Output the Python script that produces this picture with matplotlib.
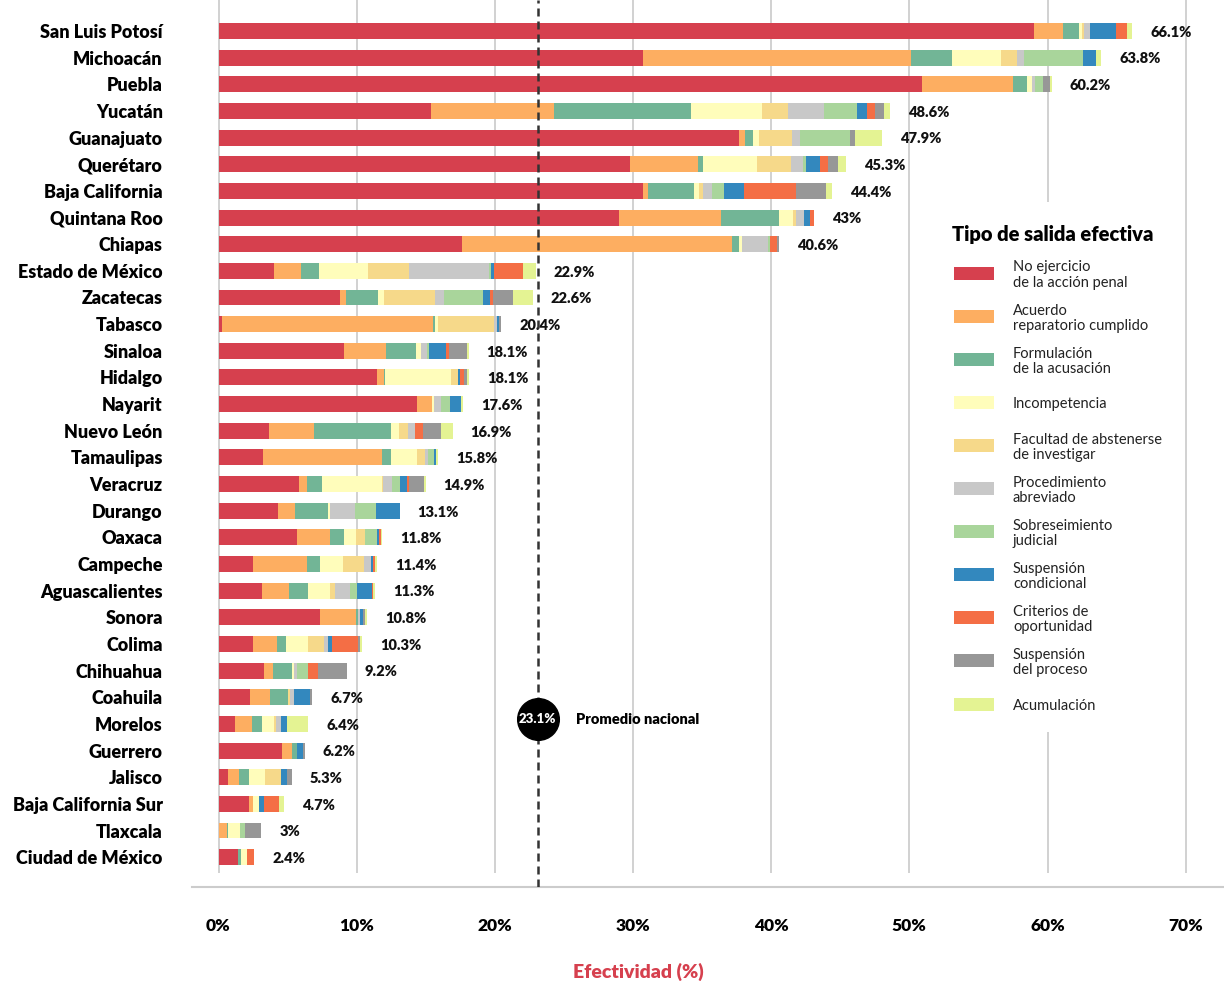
import numpy as np
import matplotlib
matplotlib.use("Agg")
import matplotlib.pyplot as plt
from matplotlib.patches import Rectangle

plt.rcParams['font.family'] = ['Lato', 'DejaVu Sans']

states = ["San Luis Potosí", "Michoacán", "Puebla", "Yucatán", "Guanajuato",
          "Querétaro", "Baja California", "Quintana Roo", "Chiapas",
          "Estado de México", "Zacatecas", "Tabasco", "Sinaloa", "Hidalgo",
          "Nayarit", "Nuevo León", "Tamaulipas", "Veracruz", "Durango",
          "Oaxaca", "Campeche", "Aguascalientes", "Sonora", "Colima",
          "Chihuahua", "Coahuila", "Morelos", "Guerrero", "Jalisco",
          "Baja California Sur", "Tlaxcala", "Ciudad de México"]

total_labels = ["66.1%", "63.8%", "60.2%", "48.6%", "47.9%", "45.3%", "44.4%",
                "43%", "40.6%", "22.9%", "22.6%", "20.4%", "18.1%", "18.1%",
                "17.6%", "16.9%", "15.8%", "14.9%", "13.1%", "11.8%", "11.4%",
                "11.3%", "10.8%", "10.3%", "9.2%", "6.7%", "6.4%", "6.2%",
                "5.3%", "4.7%", "3%", "2.4%"]

# one list per type of outcome, same order as states
no_ejercicio = [59.0, 30.7, 50.9, 15.4, 37.7, 29.8, 30.7, 29.0, 17.6, 4.0, 8.8, 0.25,
                9.1, 11.45, 14.35, 3.65, 3.2, 5.8, 4.3, 5.7, 2.5, 3.15, 7.35, 2.5,
                3.3, 2.3, 1.2, 4.6, 0.7, 2.2, 0.0, 1.4]
acuerdo = [2.1, 19.4, 6.6, 8.9, 0.4, 4.9, 0.4, 7.4, 19.6, 2.0, 0.45, 15.3,
           3.0, 0.5, 1.1, 3.25, 8.6, 0.6, 1.25, 2.4, 3.9, 1.95, 2.6, 1.75,
           0.65, 1.45, 1.25, 0.7, 0.8, 0.3, 0.6, 0.0]
formulacion = [1.2, 3.0, 1.0, 9.9, 0.6, 0.4, 3.3, 4.2, 0.5, 1.3, 2.3, 0.15,
               2.2, 0.1, 0.0, 5.55, 0.65, 1.1, 2.4, 1.0, 0.95, 1.4, 0.15, 0.6,
               1.4, 1.25, 0.7, 0.35, 0.7, 0.0, 0.1, 0.2]
incompetencia = [0.2, 3.5, 0.4, 5.1, 0.4, 3.9, 0.4, 1.0, 0.2, 3.5, 0.45, 0.2,
                 0.35, 4.8, 0.15, 0.6, 1.9, 4.3, 0.15, 0.85, 1.65, 1.6, 0.0, 1.65,
                 0.15, 0.0, 0.85, 0.0, 1.15, 0.45, 0.85, 0.45]
facultad = [0.15, 1.2, 0.0, 1.9, 2.4, 2.4, 0.3, 0.2, 0.0, 3.0, 3.7, 4.05,
            0.0, 0.5, 0.0, 0.65, 0.6, 0.1, 0.0, 0.65, 1.5, 0.35, 0.0, 1.1,
            0.0, 0.15, 0.15, 0.0, 1.15, 0.0, 0.0, 0.0]
abreviado = [0.4, 0.5, 0.2, 2.6, 0.6, 0.9, 0.6, 0.6, 1.9, 5.8, 0.65, 0.2,
             0.45, 0.0, 0.5, 0.55, 0.2, 0.65, 1.75, 0.0, 0.55, 1.1, 0.15, 0.3,
             0.15, 0.35, 0.35, 0.0, 0.0, 0.0, 0.0, 0.0]
sobreseimiento = [0.0, 4.3, 0.6, 2.4, 3.6, 0.2, 0.9, 0.0, 0.1, 0.15, 2.8, 0.0,
                  0.15, 0.0, 0.65, 0.0, 0.45, 0.6, 1.55, 0.85, 0.0, 0.45, 0.0, 0.0,
                  0.85, 0.0, 0.0, 0.0, 0.0, 0.0, 0.35, 0.0]
condicional = [1.9, 0.9, 0.0, 0.7, 0.0, 1.0, 1.4, 0.4, 0.0, 0.2, 0.5, 0.15,
               1.25, 0.15, 0.8, 0.0, 0.15, 0.5, 1.7, 0.15, 0.15, 1.1, 0.2, 0.3,
               0.0, 1.15, 0.45, 0.45, 0.45, 0.35, 0.0, 0.0]
criterios = [0.8, 0.0, 0.0, 0.6, 0.0, 0.6, 3.8, 0.3, 0.5, 2.1, 0.2, 0.0,
             0.15, 0.3, 0.0, 0.55, 0.0, 0.15, 0.0, 0.15, 0.15, 0.1, 0.0, 1.9,
             0.7, 0.0, 0.0, 0.0, 0.0, 1.1, 0.0, 0.55]
proceso = [0.0, 0.0, 0.45, 0.7, 0.4, 0.7, 2.2, 0.0, 0.2, 0.0, 1.45, 0.15,
           1.3, 0.2, 0.0, 1.3, 0.0, 1.1, 0.0, 0.0, 0.0, 0.0, 0.15, 0.15,
           2.1, 0.15, 0.0, 0.15, 0.35, 0.0, 1.2, 0.0]
acumulacion = [0.4, 0.4, 0.15, 0.4, 1.9, 0.6, 0.4, 0.0, 0.0, 0.9, 1.45, 0.0,
               0.15, 0.15, 0.15, 0.85, 0.15, 0.1, 0.0, 0.1, 0.15, 0.15, 0.15, 0.15,
               0.0, 0.0, 1.55, 0.0, 0.0, 0.35, 0.0, 0.0]

series = [no_ejercicio, acuerdo, formulacion, incompetencia, facultad, abreviado,
          sobreseimiento, condicional, criterios, proceso, acumulacion]
series_names = ["No ejercicio\nde la acción penal", "Acuerdo\nreparatorio cumplido",
                "Formulación\nde la acusación", "Incompetencia",
                "Facultad de abstenerse\nde investigar", "Procedimiento\nabreviado",
                "Sobreseimiento\njudicial", "Suspensión\ncondicional",
                "Criterios de\noportunidad", "Suspensión\ndel proceso", "Acumulación"]
colors = ["#D6404E", "#FDAE61", "#72B596", "#FFFDBB", "#F6D98A", "#C8C8C8",
          "#A9D59B", "#3388BE", "#F46E45", "#979797", "#E4F393"]

promedio = 23.1
red = "#D6404E"

W, H = 1224, 981
fig = plt.figure(figsize=(W / 100, H / 100), dpi=100)
ax = fig.add_axes([192 / W, 1 - 887 / H, (W - 192) / W, 887 / H])

x0, pxper = 218.5, 13.817
ax.set_xlim((192 - x0) / pxper, (W - x0) / pxper)
ax.set_ylim((887 - 31) / 26.65, -31 / 26.65)

y = np.arange(len(states))
left = np.zeros(len(states))
for vals, c in zip(series, colors):
    vals = np.array(vals)
    ax.barh(y, vals, left=left, height=0.6, color=c, linewidth=0, zorder=2)
    left += vals

for i, lab in enumerate(total_labels):
    ax.text(left[i] + 1.3, y[i] + 0.05, lab, fontsize=10.5, fontweight='heavy',
            va='center', ha='left', color='#111111')

# gridlines stop just above the axis line
ax.vlines(np.arange(0, 71, 10), -2, (873 - 31) / 26.65, color='#c9c9c9',
          lw=1.2, zorder=0)

ax.axvline(promedio, color='#333333', lw=1.8, dashes=(3.2, 2.0), zorder=3)
avg_y = (719 - 31) / 26.65
ax.plot(promedio, avg_y, 'o', ms=30, color='black', zorder=4)
ax.text(promedio, avg_y, f"{promedio}%", color='white', fontsize=9.5,
        fontweight='heavy', ha='center', va='center', zorder=5)
ax.text(promedio + 2.75, avg_y, "Promedio nacional", fontsize=10.5,
        fontweight='heavy', ha='left', va='center', zorder=5)

ax.set_yticks(y)
ax.set_yticklabels(states, fontsize=13, fontweight='heavy')
ax.set_xticks(np.arange(0, 71, 10))
ax.set_xticklabels([f"{v}%" for v in range(0, 71, 10)], fontsize=12.5,
                   fontweight='heavy')
ax.tick_params(axis='y', length=0, pad=21)
ax.tick_params(axis='x', length=0, pad=22)

for s in ['top', 'right', 'left']:
    ax.spines[s].set_visible(False)
ax.spines['bottom'].set_color('#cccccc')
ax.spines['bottom'].set_linewidth(1.5)

fig.text(638 / W, 1 - 972 / H, "Efectividad (%)", color=red, fontsize=14,
         fontweight='heavy', ha='center', va='center')

# legend box
fig.patches.append(Rectangle((935 / W, 1 - 732 / H), 238 / W, 530 / H,
                             transform=fig.transFigure, facecolor='white',
                             edgecolor='none', zorder=1))
fig.text(952 / W, 1 - 235 / H, "Tipo de salida efectiva", fontsize=14.5,
         fontweight='heavy', ha='left', va='center', zorder=3)
for i, (name, c) in enumerate(zip(series_names, colors)):
    yc = 273 + 43.1 * i
    fig.patches.append(Rectangle((954 / W, 1 - (yc + 6.5) / H), 40 / W, 13 / H,
                                 transform=fig.transFigure, facecolor=c,
                                 edgecolor='none', zorder=2))
    fig.text(1013 / W, 1 - (yc + 2) / H, name, fontsize=10.5, ha='left',
             va='center', linespacing=1.1, color='#222222', zorder=3)

fig.savefig("out.png", dpi=100)
